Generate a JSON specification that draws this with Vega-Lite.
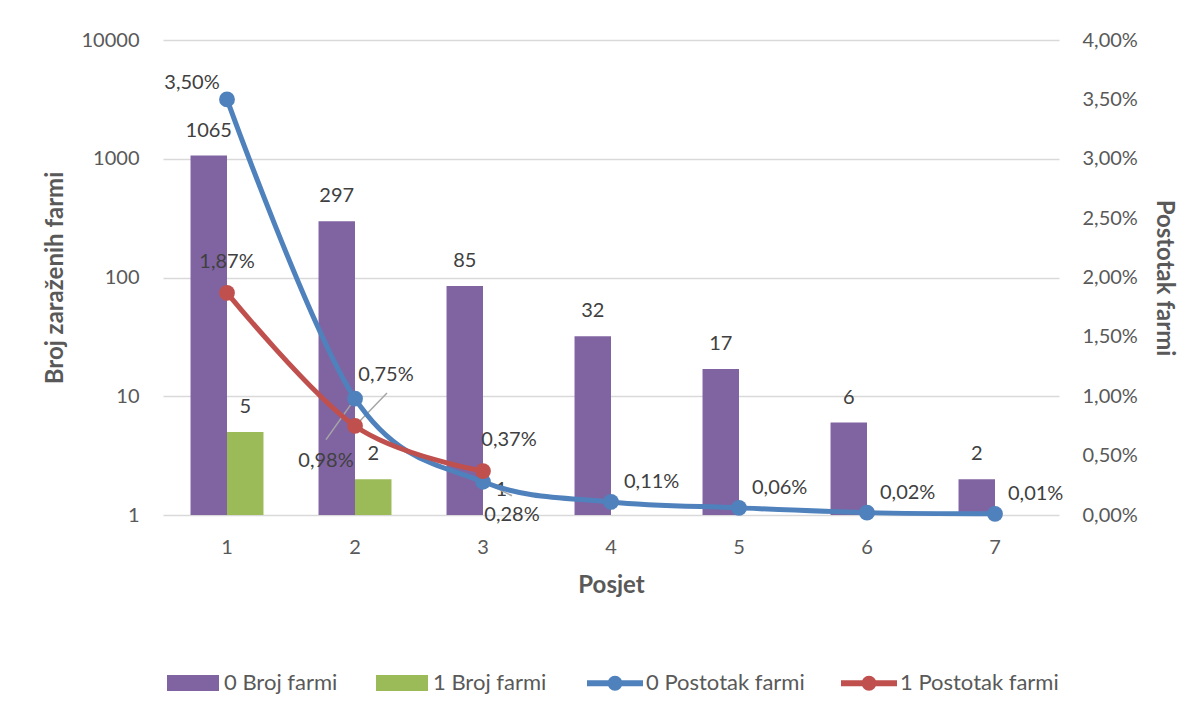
{
  "$schema": "https://vega.github.io/schema/vega-lite/v6.json",
  "width": 896,
  "height": 475,
  "autosize": {"type": "none"},
  "padding": {"left": 163, "top": 40, "right": 143, "bottom": 200},
  "background": "white",
  "config": {
    "locale": {"number": {"decimal": ",", "thousands": ".", "grouping": [3], "currency": ["", " €"]}},
    "view": {"stroke": null},
    "font": "Lato",
    "axis": {"labelFont": "Lato", "titleFont": "Lato", "labelColor": "#595959", "titleColor": "#595959", "labelFontSize": 20, "titleFontSize": 24, "titleFontWeight": "bold", "domain": false, "ticks": false},
    "legend": {"labelFont": "Lato", "labelFontSize": 22, "labelColor": "#595959", "labelOffset": 5, "columnPadding": 38, "padding": 0, "direction": "horizontal", "orient": "none"}
  },
  "data": {
    "values": [
      {"posjet": 1, "grupa": "0", "bar": "0 Broj farmi", "linija": "0 Postotak farmi", "broj": 1065, "postotak": 0.035},
      {"posjet": 1, "grupa": "1", "bar": "1 Broj farmi", "linija": "1 Postotak farmi", "broj": 5, "postotak": 0.0187},
      {"posjet": 2, "grupa": "0", "bar": "0 Broj farmi", "linija": "0 Postotak farmi", "broj": 297, "postotak": 0.0098},
      {"posjet": 2, "grupa": "1", "bar": "1 Broj farmi", "linija": "1 Postotak farmi", "broj": 2, "postotak": 0.0075},
      {"posjet": 3, "grupa": "0", "bar": "0 Broj farmi", "linija": "0 Postotak farmi", "broj": 85, "postotak": 0.0028},
      {"posjet": 3, "grupa": "1", "bar": "1 Broj farmi", "linija": "1 Postotak farmi", "broj": 1, "postotak": 0.0037},
      {"posjet": 4, "grupa": "0", "bar": "0 Broj farmi", "linija": "0 Postotak farmi", "broj": 32, "postotak": 0.0011},
      {"posjet": 5, "grupa": "0", "bar": "0 Broj farmi", "linija": "0 Postotak farmi", "broj": 17, "postotak": 0.0006},
      {"posjet": 6, "grupa": "0", "bar": "0 Broj farmi", "linija": "0 Postotak farmi", "broj": 6, "postotak": 0.0002},
      {"posjet": 7, "grupa": "0", "bar": "0 Broj farmi", "linija": "0 Postotak farmi", "broj": 2, "postotak": 0.0001}
    ]
  },
  "encoding": {
    "x": {
      "field": "posjet", "type": "ordinal",
      "scale": {"paddingInner": 0.43, "paddingOuter": 0.215},
      "axis": {"title": "Posjet", "labelAngle": 0, "labelPadding": 22, "titlePadding": 16, "grid": false}
    }
  },
  "layer": [
    {
      "encoding": {
        "y": {
          "field": "broj", "type": "quantitative",
          "scale": {"type": "log", "domain": [1, 10000], "nice": false},
          "axis": {"title": "Broj zaraženih farmi", "orient": "left", "values": [1, 10, 100, 1000, 10000], "format": "d", "grid": true, "gridColor": "#D9D9D9", "gridWidth": 1.5, "labelPadding": 24, "titlePadding": 14}
        },
        "xOffset": {"field": "bar", "type": "nominal", "scale": {"domain": ["0 Broj farmi", "1 Broj farmi"], "paddingInner": 0, "paddingOuter": 0}}
      },
      "layer": [
        {
          "mark": {"type": "bar"},
          "encoding": {
            "y2": {"datum": 1},
            "color": {
              "field": "bar", "type": "nominal",
              "scale": {"domain": ["0 Broj farmi", "1 Broj farmi"], "range": ["#8064A2", "#9BBB59"]},
              "legend": {
                "title": null, "legendX": 4, "legendY": 617,
                "symbolSize": 2704, "symbolType": "M-1,-0.31H1V0.31H-1Z", "symbolStrokeWidth": 0
              }
            }
          }
        },
        {
          "mark": {"type": "text", "dy": -25, "baseline": "middle", "fontSize": 20, "font": "Lato", "color": "#404040"},
          "encoding": {"text": {"field": "broj", "type": "quantitative", "format": "d"}}
        }
      ]
    },
    {
      "encoding": {
        "y": {
          "field": "postotak", "type": "quantitative",
          "scale": {"domain": [0, 0.04], "nice": false, "zero": true},
          "axis": {"title": "Postotak farmi", "orient": "right", "values": [0, 0.005, 0.01, 0.015, 0.02, 0.025, 0.03, 0.035, 0.04], "format": ".2%", "grid": false, "labelPadding": 23, "titlePadding": 14}
        }
      },
      "layer": [
        {
          "transform": [{"filter": "datum.posjet == 2 && datum.grupa == '0'"}],
          "mark": {"type": "rule", "color": "#A6A6A6", "strokeWidth": 1.5, "xOffset": -29, "yOffset": 41, "x2Offset": 0, "y2Offset": 0},
          "encoding": {"x2": {"field": "posjet"}, "y2": {"field": "postotak"}}
        },
        {
          "transform": [{"filter": "datum.posjet == 2 && datum.grupa == '1'"}],
          "mark": {"type": "rule", "color": "#A6A6A6", "strokeWidth": 1.5, "xOffset": 0, "yOffset": 0, "x2Offset": 32, "y2Offset": -33},
          "encoding": {"x2": {"field": "posjet"}, "y2": {"field": "postotak"}}
        },
        {
          "transform": [{"filter": "datum.posjet == 3 && datum.grupa == '0'"}],
          "mark": {"type": "rule", "color": "#A6A6A6", "strokeWidth": 1.5, "xOffset": 0, "yOffset": 0, "x2Offset": 29, "y2Offset": 14},
          "encoding": {"x2": {"field": "posjet"}, "y2": {"field": "postotak"}}
        },
        {
          "mark": {"type": "line", "interpolate": "cardinal", "strokeWidth": 5},
          "encoding": {
            "stroke": {
              "field": "linija", "type": "nominal",
              "scale": {"domain": ["0 Postotak farmi", "1 Postotak farmi"], "range": ["#4F81BD", "#C0504D"]},
              "legend": {
                "title": null, "legendX": 421, "legendY": 612,
                "symbolSize": 3136,
                "symbolType": "M-1,0H1M-0.05,0A0.05,0.05 0 1,1 0.05,0A0.05,0.05 0 1,1 -0.05,0M-0.16,0A0.16,0.16 0 1,1 0.16,0A0.16,0.16 0 1,1 -0.16,0",
                "symbolStrokeWidth": 6, "symbolFillColor": "transparent", "columnPadding": 24, "labelOffset": 0
              }
            }
          }
        },
        {
          "mark": {"type": "point", "filled": true, "size": 250, "opacity": 1},
          "encoding": {"fill": {"field": "linija", "type": "nominal", "scale": {"domain": ["0 Postotak farmi", "1 Postotak farmi"], "range": ["#4F81BD", "#C0504D"]}, "legend": null}}
        },
        {
          "transform": [{"filter": "datum.posjet == 1 && datum.grupa == '0'"}],
          "mark": {"type": "text", "dx": -35, "dy": -16, "baseline": "middle", "fontSize": 20, "font": "Lato", "color": "#404040"},
          "encoding": {"text": {"field": "postotak", "type": "quantitative", "format": ".2%"}}
        },
        {
          "transform": [{"filter": "datum.posjet == 1 && datum.grupa == '1'"}],
          "mark": {"type": "text", "dx": 0, "dy": -31, "baseline": "middle", "fontSize": 20, "font": "Lato", "color": "#404040"},
          "encoding": {"text": {"field": "postotak", "type": "quantitative", "format": ".2%"}}
        },
        {
          "transform": [{"filter": "datum.posjet == 2 && datum.grupa == '0'"}],
          "mark": {"type": "text", "dx": -29, "dy": 62, "baseline": "middle", "fontSize": 20, "font": "Lato", "color": "#404040"},
          "encoding": {"text": {"field": "postotak", "type": "quantitative", "format": ".2%"}}
        },
        {
          "transform": [{"filter": "datum.posjet == 2 && datum.grupa == '1'"}],
          "mark": {"type": "text", "dx": 31, "dy": -51, "baseline": "middle", "fontSize": 20, "font": "Lato", "color": "#404040"},
          "encoding": {"text": {"field": "postotak", "type": "quantitative", "format": ".2%"}}
        },
        {
          "transform": [{"filter": "datum.posjet == 3 && datum.grupa == '1'"}],
          "mark": {"type": "text", "dx": 26, "dy": -31, "baseline": "middle", "fontSize": 20, "font": "Lato", "color": "#404040"},
          "encoding": {"text": {"field": "postotak", "type": "quantitative", "format": ".2%"}}
        },
        {
          "transform": [{"filter": "datum.posjet == 3 && datum.grupa == '0'"}],
          "mark": {"type": "text", "dx": 29, "dy": 33, "baseline": "middle", "fontSize": 20, "font": "Lato", "color": "#404040"},
          "encoding": {"text": {"field": "postotak", "type": "quantitative", "format": ".2%"}}
        },
        {
          "transform": [{"filter": "datum.posjet >= 4"}],
          "mark": {"type": "text", "align": "left", "dx": 13, "dy": -20, "baseline": "middle", "fontSize": 20, "font": "Lato", "color": "#404040"},
          "encoding": {"text": {"field": "postotak", "type": "quantitative", "format": ".2%"}}
        }
      ]
    }
  ],
  "resolve": {"scale": {"y": "independent"}}
}
